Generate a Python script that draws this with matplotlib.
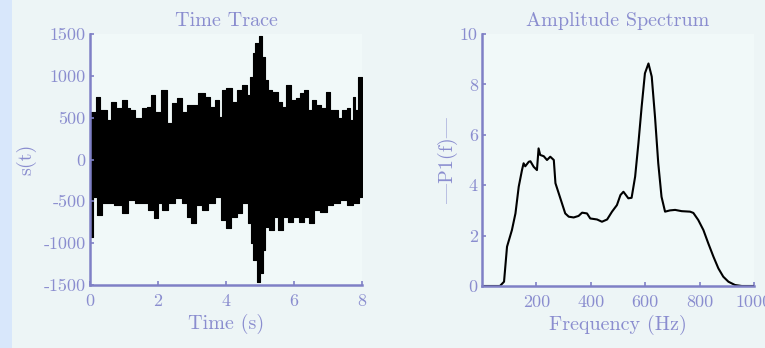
import numpy as np
import matplotlib
matplotlib.use("Agg")
from matplotlib import pyplot as plt
from matplotlib.patches import Rectangle

plt.rcParams['font.family'] = ['cmr10', 'DejaVu Serif']
plt.rcParams['mathtext.fontset'] = 'cm'
plt.rcParams['axes.unicode_minus'] = False
plt.rcParams['axes.formatter.use_mathtext'] = False

txt = '#8a8dcf'
spine = '#7f80c6'

# time trace envelope (s, value)
t_up = [0.0, 0.05, 0.10, 0.25, 0.34, 0.45, 0.54, 0.69, 0.83, 1.03, 1.13, 1.23, 1.42, 1.62,
        1.72, 1.86, 1.96, 2.2, 2.35, 2.45, 2.65, 2.79, 2.9, 3.09, 3.28, 3.48, 3.58, 3.77,
        3.82, 3.92, 4.07, 4.26, 4.41, 4.56, 4.66, 4.76, 4.80, 4.90, 5.02, 5.10, 5.20, 5.29,
        5.44, 5.59, 5.69, 5.83, 5.98, 6.13, 6.22, 6.37, 6.47, 6.57, 6.71, 6.86, 7.01, 7.11,
        7.25, 7.35, 7.50, 7.60, 7.69, 7.76, 7.84, 7.92, 8.0]
s_up = [412, 572, 572, 751, 592, 592, 472, 691, 612, 711, 612, 592, 492, 612,
        631, 771, 572, 831, 432, 671, 731, 572, 651, 651, 791, 751, 631, 711,
        512, 831, 851, 691, 831, 890, 771, 990, 1269, 1389, 1476, 1229, 950, 831,
        811, 691, 631, 890, 711, 731, 791, 831, 592, 711, 651, 612, 811, 592,
        592, 492, 592, 612, 472, 751, 592, 990, 990]
t_lo = [0.0, 0.05, 0.10, 0.29, 0.44, 0.59, 0.83, 1.03, 1.23, 1.42, 1.62, 1.81, 1.93, 2.06,
        2.2, 2.4, 2.6, 2.79, 2.89, 3.04, 3.19, 3.38, 3.58, 3.77, 3.92, 4.07, 4.22, 4.41,
        4.56, 4.71, 4.76, 4.85, 4.95, 5.05, 5.10, 5.20, 5.35, 5.49, 5.59, 5.74, 5.88, 6.08,
        6.22, 6.37, 6.52, 6.67, 6.86, 7.06, 7.25, 7.45, 7.64, 7.84, 8.0]
s_lo = [-922, -922, -444, -663, -524, -524, -544, -643, -484, -524, -524, -604, -703, -524,
        -604, -524, -460, -524, -683, -763, -544, -604, -524, -444, -723, -823, -683, -643,
        -524, -763, -1002, -1201, -1460, -1360, -1082, -803, -843, -683, -843, -683, -743, -683,
        -743, -683, -763, -604, -624, -544, -524, -484, -544, -524, -444]

# single-sided amplitude spectrum
freq = [4, 66, 81, 92, 110, 123, 135, 147, 153, 159, 172, 178, 190, 202, 208, 214, 227, 239,
        251, 264, 270, 282, 294, 306, 319, 337, 355, 368, 386, 398, 423, 441, 460, 478, 496,
        509, 520, 538, 550, 563, 575, 587, 599, 612, 624, 636, 648, 660, 673, 691, 710, 734,
        765, 777, 795, 814, 832, 851, 869, 887, 906, 930, 955, 1000]
amp = [0.0, 0.0, 0.17, 1.56, 2.22, 2.88, 3.94, 4.6, 4.87, 4.75, 4.93, 4.95, 4.73, 4.6, 5.46, 5.2,
       5.15, 5.0, 5.13, 5.0, 4.08, 3.68, 3.28, 2.88, 2.75, 2.72, 2.78, 2.91, 2.88, 2.68, 2.64,
       2.55, 2.64, 2.95, 3.21, 3.61, 3.74, 3.48, 3.5, 4.34, 5.66, 7.12, 8.44, 8.83, 8.31, 6.72,
       4.87, 3.54, 2.95, 3.0, 3.02, 2.97, 2.95, 2.9, 2.62, 2.22, 1.69, 1.16, 0.7, 0.37, 0.17,
       0.04, 0.0, 0.0]

fig = plt.figure(figsize=(7.65, 3.48), dpi=100)
fig.patch.set_facecolor('#edf5f6')
fig.patches.append(Rectangle((0, 0), 12 / 765, 1, transform=fig.transFigure,
                             facecolor='#d8e7fb', edgecolor='none', zorder=0))

ax1 = fig.add_axes([90 / 765, 63 / 348, 272 / 765, 251 / 348])
ax2 = fig.add_axes([482 / 765, 62 / 348, 272 / 765, 252 / 348])

ax1.fill_between(t_up, 0, s_up, step='mid', color='black', lw=0.8)
ax1.fill_between(t_lo, s_lo, 0, step='mid', color='black', lw=0.8)
ax1.set_xlim(0, 8)
ax1.set_ylim(-1500, 1500)
ax1.set_xticks([0, 2, 4, 6, 8])
ax1.set_yticks([-1500, -1000, -500, 0, 500, 1000, 1500])
ax1.set_title('Time Trace', color=txt, fontsize=14.5, pad=6)
ax1.set_xlabel('Time (s)', color=txt, fontsize=14.5, labelpad=4)
ax1.set_ylabel('s(t)', color=txt, fontsize=14.5, labelpad=5)

ax2.plot(freq, amp, color='black', lw=1.5)
ax2.set_xlim(0, 1000)
ax2.set_ylim(0, 10)
ax2.set_xticks([200, 400, 600, 800, 1000])
ax2.set_yticks([0, 2, 4, 6, 8, 10])
ax2.set_title('Amplitude Spectrum', color=txt, fontsize=14.5, pad=6)
ax2.set_xlabel('Frequency (Hz)', color=txt, fontsize=14.5, labelpad=4)
ax2.set_ylabel('|P1(f)|', color=txt, fontsize=14.5, labelpad=1)

for ax in (ax1, ax2):
    ax.set_facecolor('#f1f9f9')
    for side in ('top', 'right'):
        ax.spines[side].set_visible(False)
    for side in ('left', 'bottom'):
        ax.spines[side].set_color(spine)
        ax.spines[side].set_linewidth(1.8)
    ax.tick_params(direction='in', length=3, width=1.2, color=spine,
                   labelcolor=txt, labelsize=13, pad=3)
    ax.tick_params(axis='x', pad=6)
    for lab in ax.get_xticklabels() + ax.get_yticklabels():
        lab.set_clip_on(False)

fig.savefig('out.png', dpi=100, facecolor=fig.get_facecolor())
